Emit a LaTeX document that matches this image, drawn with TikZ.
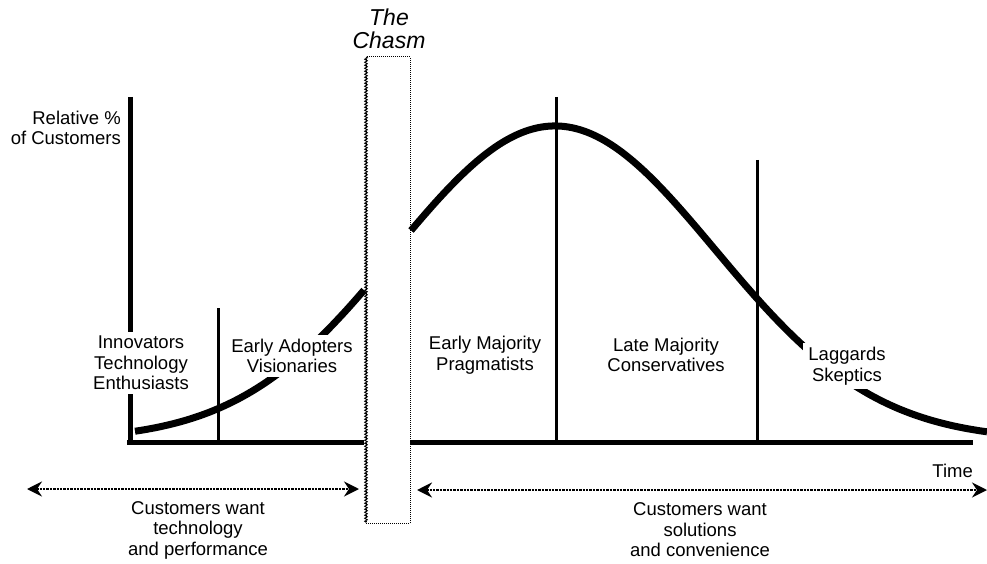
\documentclass[tikz,border=0pt]{standalone}
\usepackage{fontspec}
\setmainfont{Liberation Sans}
\usepackage{tikz}
\usetikzlibrary{arrows.meta, positioning, decorations.pathmorphing}

\begin{document}
\begin{tikzpicture}[x=1pt, y=-1pt,
    lbl/.style={align=center, fill=white, inner xsep=5pt, inner ysep=4pt, font=\fontsize{18.5}{20.5}\selectfont},
    axis/.style={line width=5pt},
    divider/.style={line width=3pt},
    curve/.style={line width=7pt},
    span/.style={densely dotted, line width=2.4pt, {Stealth[length=15pt,width=15pt,inset=5pt]}-{Stealth[length=15pt,width=15pt,inset=5pt]}}]
      \useasboundingbox (0,0) rectangle (987,564);

      % the chasm
      \draw[densely dotted, line width=1pt] (366,57) rectangle (410,523);
      \draw[decorate, decoration={zigzag, segment length=3pt, amplitude=1.3pt}, line width=0.9pt] (366,57) -- (366,523);
      \node[align=center, inner sep=0pt, font=\fontsize{23}{23}\selectfont\itshape] (chasm) at (389,29) {The\\Chasm};

      % axes
      \draw[axis] (130,97) -- (130,444);
      \draw[axis] (127,442) -- (364,442);
      \draw[axis] (410,442) -- (973,442);

      % adoption curve
      \draw[curve] plot[domain=135:364, samples=60, smooth] (\x, {440-314*exp(-0.5*((\x-555)/157)^2)});
      \draw[curve] plot[domain=411:987, samples=100, smooth] (\x, {440-314*exp(-0.5*((\x-555)/160)^2)});

      % group dividers
      \draw[divider] (218,308) -- (218,442);
      \draw[divider] (556,97) -- (556,442);
      \draw[divider] (757,160) -- (757,442);

      \node[lbl, align=right, anchor=east, fill=none, inner sep=0pt] (yaxis) at (121,128) {Relative \%\\of Customers};
      \node[lbl] (innov) at (141,363) {Innovators\\Technology\\Enthusiasts};
      \node[lbl] (early) at (292,356) {Early Adopters\\Visionaries};
      \node[lbl] (emaj) at (485,355) {Early Majority\\Pragmatists};
      \node[lbl] (lmaj) at (666,355) {Late Majority\\Conservatives};
      \node[lbl] (lagg) at (847,366) {Laggards\\Skeptics};
      \node[lbl, fill=none, inner sep=0pt, anchor=east] (time) at (973,471) {Time};

      % what customers want
      \coordinate (techL) at (27,489);
      \coordinate (techR) at (359,489);
      \coordinate (solL) at (417,490);
      \coordinate (solR) at (987,490);
      \draw[span] (techL) -- (techR);
      \draw[span] (solL) -- (solR);
      \node[lbl, fill=none, inner sep=0pt] (tech) at (198,530) {Customers want\\technology\\and performance};
      \node[lbl, fill=none, inner sep=0pt] (sol) at (700,530) {Customers want\\solutions\\and convenience};
    \end{tikzpicture}
\end{document}
